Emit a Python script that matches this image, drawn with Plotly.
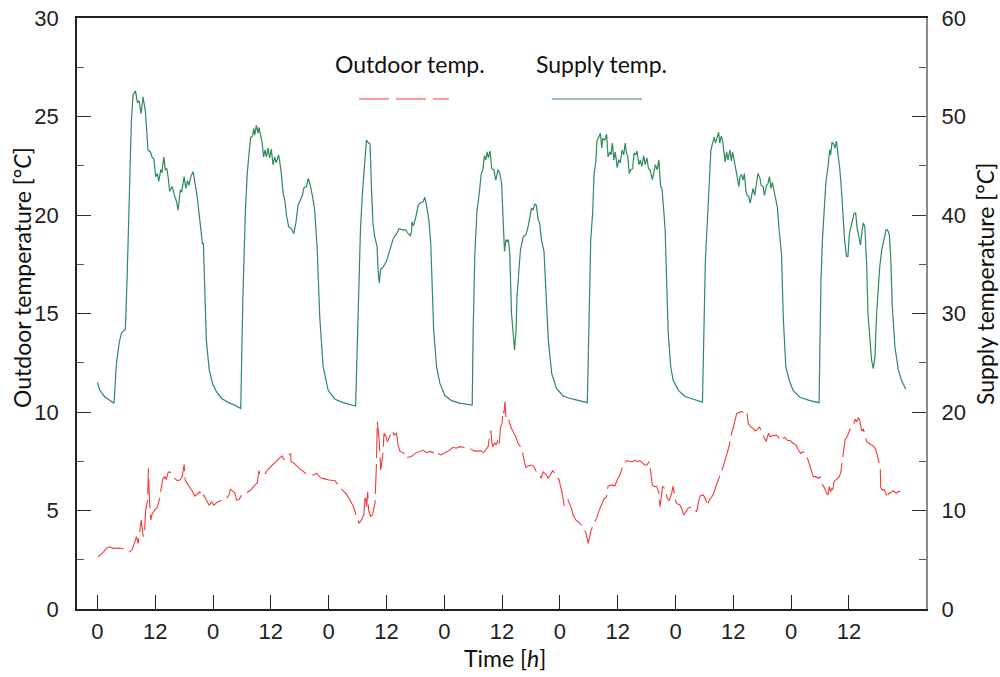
import plotly.graph_objects as go

# ---------------- data ----------------
supply_h = [0, 0.5, 1.5, 2.55, 3.45, 3.94, 4.5, 4.98, 5.5, 5.8, 6.15, 6.57, 7.05, 7.4, 7.9, 8.3, 8.65, 9.06, 9.47, 9.96,
            10.5, 11.0, 11.4, 11.7, 12.1, 12.45, 12.73, 13.15, 13.4, 13.77, 14.1, 14.4, 14.67, 15.0, 15.5, 16.05, 16.4, 16.75,
            17.2, 17.5, 18.0, 18.35, 18.7, 19.0, 19.4, 19.86, 20.2, 20.7, 21.25, 21.8, 22.0, 22.3, 22.6, 23.2, 23.9, 24.7,
            25.75, 27.1, 28.5, 29.75, 30.2, 30.7, 31.1, 31.6, 31.85, 32.2, 32.45, 32.65, 33.0, 33.35, 33.55, 33.9, 34.2,
            34.5, 34.8, 35.1, 35.4, 35.75, 36.1, 36.45, 36.8, 37.1, 37.6, 37.85, 38.2, 38.55, 38.9, 39.24, 39.7, 40.3,
            40.76, 41.2, 41.65, 42.1, 42.55, 42.9, 43.4, 43.75, 44.1, 44.65, 45.1, 45.6, 46.16, 46.85, 47.9, 49.3, 51.0,
            53.6, 54.1, 54.6, 55.0, 55.36, 55.85, 56.2, 56.6, 56.9, 57.2, 57.56, 58.05, 58.26, 58.5, 58.8, 59.3, 60.0,
            60.7, 61.4, 62.1, 62.6, 63.3, 64.0, 64.5, 64.96, 65.2, 65.3, 65.6, 66.1, 66.6, 67.1, 67.6, 67.96, 68.3, 68.8,
            69.2, 69.5, 69.8, 70.4, 71.1, 72.1, 73.5, 75.2, 77.8, 78.0, 78.35, 78.8, 79.2, 79.65, 80.0, 80.35, 80.6, 80.9,
            81.15, 81.5, 81.85, 82.3, 82.7, 83.15, 83.5, 83.9, 84.2, 84.5, 84.8, 85.05, 85.3, 85.6, 85.96, 86.2, 86.6,
            86.9, 87.1, 87.55, 87.8, 88.4, 88.95, 89.4, 89.75, 90.1, 90.4, 90.8, 91.1, 91.5, 91.8, 92.2, 92.7, 93.1, 93.6,
            94.3, 95.3, 96.7, 98.75, 101.7, 102.0, 102.4, 102.8, 103.1, 103.45, 103.7, 104.1, 104.4, 104.7, 104.9, 105.3,
            105.7, 106.0, 106.4, 106.6, 106.9, 107.2, 107.5, 107.9, 108.2, 108.55, 108.9, 109.25, 109.55, 109.8, 110.1,
            110.4, 110.7, 111.1, 111.4, 111.75, 112.0, 112.4, 112.7, 113.0, 113.4, 113.7, 114.05, 114.4, 114.7, 115.2,
            115.5, 115.8, 116.2, 116.55, 116.9, 117.2, 117.6, 117.85, 118.15, 118.5, 119.0, 119.5, 120.6, 121.9, 123.7,
            125.6, 125.9, 126.2, 126.7, 127.0, 127.35, 127.7, 128.05, 128.3, 128.6, 128.95, 129.2, 129.5, 129.8, 130.05,
            130.3, 130.6, 130.9, 131.3, 131.6, 131.85, 132.3, 132.55, 132.8, 133.15, 133.4, 133.7, 134.0, 134.3, 134.6,
            134.85, 135.2, 135.5, 135.8, 136.1, 136.45, 136.8, 137.1, 137.5, 137.8, 138.2, 138.45, 138.9, 139.2, 139.5,
            139.8, 140.1, 140.5, 140.8, 141.15, 141.5, 142.0, 142.4, 142.9, 143.6, 144.4, 145.8, 147.9, 149.8, 150.0,
            150.2, 150.5, 150.9, 151.2, 151.7, 152.0, 152.2, 152.5, 152.85, 153.1, 153.4, 153.7, 154.1, 154.4, 154.8,
            155.1, 155.5, 155.8, 156.1, 156.4, 156.8, 157.1, 157.4, 157.7, 158.1, 158.4, 158.75, 159.0, 159.3, 159.7,
            159.95, 160.4, 160.7, 161.05, 161.4, 161.75, 162.1, 162.4, 162.8, 163.3, 163.7, 164.0, 164.4, 164.7, 165.0,
            165.55, 166.25, 166.9, 167.8]
supply_temp = [23.0, 22.2, 21.55, 21.15, 20.88, 24.9, 27.0, 28.0, 28.3, 28.4, 33.4, 41.9, 49.6, 52.2, 52.6, 51.4, 51.6,
               50.3, 52.0, 50.5, 46.6, 46.4, 45.8, 45.7, 43.9, 44.2, 43.4, 44.6, 44.3, 45.9, 44.6, 44.7, 43.9, 42.4, 42.9,
               41.9, 41.4, 40.5, 42.5, 42.4, 43.9, 42.7, 43.5, 43.0, 43.9, 44.4, 43.5, 41.9, 39.5, 37.1, 37.1, 32.05, 27.3,
               24.3, 22.9, 22.06, 21.4, 20.98, 20.7, 20.35, 31.7, 40.2, 44.2, 46.9, 47.9, 48.0, 48.8, 48.1, 49.1, 48.3,
               48.9, 48.0, 47.3, 45.9, 46.6, 45.9, 46.8, 45.8, 46.7, 45.1, 45.9, 45.3, 46.1, 45.4, 44.1, 42.2, 41.5, 40.0,
               38.8, 38.6, 38.1, 39.2, 41.0, 41.5, 42.0, 42.8, 42.9, 43.7, 43.2, 41.9, 40.5, 36.8, 29.6, 24.6, 22.2, 21.3,
               20.95, 20.6, 30.0, 38.5, 42.2, 44.9, 47.6, 47.35, 47.2, 42.5, 39.2, 37.8, 36.8, 34.4, 33.1, 34.5, 34.7,
               35.3, 36.4, 37.6, 38.1, 38.6, 38.5, 38.5, 38.1, 37.9, 38.3, 39.3, 38.9, 39.8, 41.0, 41.25, 41.35, 41.8,
               41.0, 39.5, 37.1, 33.4, 28.3, 24.6, 22.9, 21.7, 21.15, 20.9, 20.7, 28.3, 36.1, 40.5, 41.9, 44.1, 44.6,
               46.0, 45.6, 46.4, 45.8, 46.5, 44.7, 44.6, 43.55, 44.6, 44.3, 43.2, 39.5, 36.3, 37.5, 37.3, 37.5, 36.1,
               30.0, 28.5, 26.3, 28.3, 31.7, 34.75, 36.4, 37.8, 38.0, 38.8, 40.0, 40.7, 40.5, 41.1, 41.0, 39.5, 39.2,
               37.4, 36.3, 31.7, 27.3, 23.9, 22.4, 21.6, 21.3, 20.95, 30.0, 37.5, 40.2, 44.2, 45.4, 47.6, 47.9, 48.3,
               46.8, 47.8, 47.6, 48.2, 45.9, 46.4, 46.1, 47.3, 45.6, 46.4, 44.8, 45.6, 45.3, 46.6, 46.1, 47.3, 46.4, 45.9,
               44.2, 44.6, 44.7, 46.3, 46.1, 46.5, 45.1, 45.6, 44.9, 46.0, 45.1, 45.8, 44.7, 44.6, 43.6, 44.5, 45.1, 44.6,
               45.6, 42.9, 42.7, 40.2, 38.5, 33.4, 28.0, 24.6, 23.25, 22.2, 21.6, 21.3, 21.0, 28.3, 35.4, 40.2, 43.55,
               46.6, 47.3, 47.9, 47.3, 47.8, 48.4, 47.3, 48.0, 47.5, 46.6, 45.4, 46.4, 45.6, 46.6, 45.5, 46.4, 45.3, 44.9,
               43.9, 42.9, 43.9, 44.1, 43.55, 44.2, 42.5, 42.0, 41.9, 41.2, 42.2, 42.7, 42.0, 43.55, 44.2, 43.8, 43.0,
               42.9, 42.0, 43.0, 43.2, 43.9, 42.7, 43.3, 42.3, 41.35, 40.8, 38.5, 36.1, 29.3, 24.6, 23.25, 22.2, 21.5,
               21.15, 20.95, 26.6, 33.4, 37.5, 40.8, 43.2, 45.1, 46.6, 46.1, 47.4, 47.2, 46.8, 47.5, 46.4, 44.7, 42.9,
               39.8, 37.5, 35.8, 35.8, 38.1, 38.8, 39.7, 40.2, 40.2, 38.7, 37.7, 36.95, 38.5, 39.2, 38.8, 34.75, 30.0,
               27.0, 25.3, 24.4, 25.6, 30.0, 32.4, 34.75, 36.4, 37.8, 38.5, 38.5, 38.0, 35.4, 30.7, 26.6, 24.3, 23.25,
               22.3]

outdoor_h = [0.13, 1.0, 1.87, 2.5, 3.2, 3.9, 4.6, 6.0, 6.7, 7.26, 7.75, 8.1, 8.45, 8.8, 9.1, 9.5, 9.8, 10.0, 10.4, 10.6,
             10.8, 11.1, 11.4, 11.9, 12.4, 12.8, 13.3, 13.6, 14.0, 14.3, 14.67, 15.0, 15.6, 16.05, 16.6, 17.1, 17.6, 18.0,
             18.2, 18.6, 19.2, 19.65, 20.2, 20.7, 21.25, 21.66, 22.1, 22.6, 23.2, 23.7, 24.2, 24.7, 25.4, 26.1, 26.8,
             27.3, 27.6, 28.5, 28.9, 29.4, 29.9, 30.6, 31.3, 31.8, 32.7, 33.2, 33.5, 33.8, 34.4, 34.9, 35.4, 36.1, 36.7,
             37.2, 37.85, 38.3, 38.7, 39.2, 40.1, 40.2, 40.8, 41.4, 41.9, 43.2, 44.1, 44.8, 45.5, 46.2, 46.7, 47.4, 48.1,
             49.3, 49.8, 50.3, 51.0, 51.7, 52.4, 53.1, 53.6, 54.0, 54.3, 54.8, 55.3, 55.6, 55.9, 56.1, 56.3, 56.7, 57.1,
             57.6, 57.9, 58.1, 58.5, 58.8, 59.2, 59.5, 59.9, 60.2, 60.7, 61.2, 61.6, 62.1, 62.4, 62.8, 63.5, 64.0, 64.5,
             65.2, 66.0, 66.9, 67.6, 68.3, 69.0, 69.7, 70.4, 70.9, 71.4, 72.2, 73.0, 73.8, 74.5, 75.2, 75.9, 76.6, 77.3,
             78.1, 78.8, 79.5, 80.1, 80.6, 81.1, 81.5, 81.7, 81.9, 82.1, 82.5, 82.8, 83.2, 83.4, 83.7, 84.0, 84.2, 84.4,
             84.6, 84.8, 85.1, 85.5, 85.8, 86.3, 86.85, 87.3, 87.8, 88.2, 88.5, 88.9, 89.4, 90.1, 90.6, 91.1, 91.7, 92.1,
             92.5, 92.9, 93.2, 93.6, 94.05, 94.5, 94.95, 95.3, 95.8, 96.2, 96.55, 96.9, 97.2, 97.7, 98.4, 98.75, 99.3,
             99.8, 100.3, 100.8, 101.4, 101.9, 102.1, 102.4, 102.9, 103.6, 104.2, 104.65, 105.1, 105.7, 106.0, 106.7,
             107.4, 107.9, 108.45, 109.0, 109.5, 109.85, 110.5, 111.1, 111.6, 112.1, 112.6, 113.2, 113.6, 114.1, 114.5,
             114.8, 115.2, 115.7, 116.05, 116.5, 116.8, 117.3, 117.8, 118.3, 118.7, 119.2, 119.5, 119.9, 120.2, 120.9,
             121.4, 121.7, 122.1, 122.6, 122.98, 123.7, 124.0, 124.4, 124.7, 125.1, 125.8, 126.3, 126.7, 127.0, 127.5,
             128.0, 128.3, 128.9, 129.4, 129.9, 130.4, 130.8, 131.2, 131.4, 131.8, 132.3, 132.7, 133.2, 133.7, 134.1,
             134.4, 134.8, 135.1, 135.6, 136.1, 136.5, 137.0, 137.4, 137.9, 138.4, 138.8, 139.3, 139.6, 140.3, 140.9,
             141.3, 141.8, 142.3, 142.7, 143.3, 143.8, 144.3, 145.0, 145.5, 146.0, 146.5, 147.0, 147.4, 147.7, 148.3,
             148.6, 149.2, 149.6, 150.0, 150.3, 150.7, 151.0, 151.4, 151.7, 151.9, 152.2, 152.5, 152.6, 152.9, 153.5,
             154.0, 154.3, 154.6, 154.8, 155.2, 155.7, 156.2, 156.8, 157.3, 157.6, 158.0, 158.3, 158.6, 159.0, 159.3,
             159.7, 160.2, 160.7, 161.2, 161.6, 161.9, 162.2, 162.5, 162.6, 162.9, 163.3, 163.7, 163.97, 164.2, 164.7,
             165.2, 165.8, 166.2, 166.7]
outdoor_temp = [2.65, 2.82, 3.08, 3.16, 3.08, 3.08, 3.1, 3.0, 2.9, 3.03, 3.42, 3.67, 3.33, 4.0, 4.52, 3.67, 4.0, 5.0,
                5.5, 7.14, 5.5, 4.52, 4.85, 5.02, 5.15, 5.49, 6.21, 6.63, 6.72, 6.58, 6.92, 6.97, 6.8, 6.63, 6.51, 6.55,
                6.72, 7.34, 6.55, 6.41, 6.21, 6.0, 5.73, 5.83, 5.95, 5.66, 5.78, 5.53, 5.27, 5.44, 5.27, 5.39, 5.48,
                5.56, 5.61, 5.78, 6.07, 5.9, 5.53, 5.56, 5.78, 5.83, 5.95, 6.04, 6.29, 6.41, 7.02, 6.8, 6.8, 6.89, 7.09,
                7.26, 7.4, 7.53, 7.65, 7.77, 7.6, 7.65, 7.9, 7.48, 7.4, 7.26, 7.14, 6.89, 6.84, 6.8, 6.89, 6.68, 6.63,
                6.58, 6.55, 6.51, 6.38, 6.21, 6.0, 5.83, 5.53, 5.23, 4.85, 4.52, 4.35, 4.52, 4.77, 5.79, 5.2, 5.95, 5.0,
                4.7, 4.77, 5.36, 7.22, 9.51, 8.58, 7.06, 7.73, 8.92, 8.76, 8.5, 8.83, 9.05, 8.83, 8.92, 8.33, 8.0, 7.94,
                7.65, 7.7, 7.74, 7.9, 8.0, 8.07, 7.94, 8.0, 7.94, 8.04, 7.87, 7.82, 7.95, 8.04, 8.21, 8.16, 8.24, 8.21,
                8.16, 8.16, 8.04, 8.0, 8.04, 7.94, 8.07, 8.24, 8.92, 9.05, 8.41, 8.24, 8.44, 8.33, 8.66, 8.38, 9.25,
                9.42, 10.07, 9.93, 10.52, 9.76, 9.85, 9.42, 9.25, 9.0, 8.75, 8.41, 8.24, 8.0, 7.6, 7.19, 7.26, 7.31,
                7.23, 6.97, 6.89, 6.63, 6.97, 6.89, 6.8, 6.63, 6.8, 7.02, 6.89, 6.72, 6.58, 6.21, 5.79, 5.23, 5.45, 5.53,
                5.11, 4.77, 4.52, 4.43, 4.31, 4.09, 3.87, 3.33, 3.59, 3.93, 4.26, 4.6, 5.03, 5.36, 5.57, 5.7, 6.24, 6.3,
                6.24, 6.55, 6.8, 7.19, 7.4, 7.53, 7.5, 7.48, 7.56, 7.48, 7.53, 7.4, 7.31, 7.31, 7.48, 7.06, 6.29, 6.21,
                6.24, 5.96, 5.19, 6.21, 6.12, 5.62, 5.5, 5.87, 6.24, 5.62, 5.36, 5.28, 5.03, 4.77, 4.94, 5.11, 5.16,
                5.16, 5.03, 4.94, 5.36, 5.74, 5.79, 5.53, 5.23, 5.53, 5.67, 5.91, 6.17, 6.55, 6.89, 7.23, 7.65, 8.0,
                8.33, 8.67, 9.0, 9.51, 9.93, 9.98, 10.02, 9.98, 10.02, 10.05, 9.42, 9.25, 9.17, 9.05, 9.1, 9.25, 9.0,
                8.75, 8.5, 8.92, 8.75, 8.8, 8.83, 8.75, 8.55, 8.67, 8.71, 8.55, 8.55, 8.44, 8.33, 8.07, 7.9, 7.99, 7.9,
                7.65, 7.4, 6.97, 6.72, 6.72, 6.63, 6.72, 6.38, 6.24, 6.12, 5.87, 5.79, 6.21, 5.96, 6.17, 5.96, 6.46,
                6.58, 6.72, 6.92, 7.4, 7.9, 8.58, 8.78, 9.12, 9.25, 9.63, 9.51, 9.72, 9.51, 9.08, 9.12, 8.78, 8.5, 8.41,
                8.33, 8.24, 8.07, 7.82, 7.56, 7.19, 6.17, 6.04, 6.07, 5.87, 5.62, 5.87, 5.91, 6.0, 5.87, 5.96, 5.96]

x_tickvals = [0, 12, 24, 36, 48, 60, 72, 84, 96, 108, 120, 132, 144, 156]
x_ticktext = ["0", "12", "0", "12", "0", "12", "0", "12", "0", "12", "0", "12", "0", "12"]
left_ticks = [0, 5, 10, 15, 20, 25, 30]
right_ticks = [0, 10, 20, 30, 40, 50, 60]
series_names = ["Outdoor temp.", "Supply temp."]

RED = "#f23a3a"
GREEN = "#2e8b57"
TXT = "#222222"

# plot area in pixels
L, R, T, B = 77, 926, 18, 609
W, H = 1000, 677


def px(x):
    return (x - L) / (R - L)


def py(y):
    return (B - y) / (B - T)


fig = go.Figure()
fig.add_trace(go.Scatter(x=outdoor_h, y=outdoor_temp, mode="lines", name=series_names[0],
                         line=dict(color=RED, width=1.1, dash="30px,6px"), yaxis="y"))
fig.add_trace(go.Scatter(x=supply_h, y=supply_temp, mode="lines", name=series_names[1],
                         line=dict(color=GREEN, width=1.2), yaxis="y2"))

tickfont = dict(family="Liberation Sans, Arial, sans-serif", size=22, color=TXT)
titlefont = dict(family="Lato, sans-serif", size=23, color="#111111")

fig.update_layout(
    template="none",
    width=W, height=H,
    margin=dict(l=L, r=W - R, t=T, b=H - B, pad=0, autoexpand=False),
    paper_bgcolor="white", plot_bgcolor="white",
    showlegend=False,
    xaxis=dict(range=[-4.24, 172.0], tickvals=x_tickvals, ticktext=x_ticktext, automargin=False,
               ticks="inside", ticklen=14, tickwidth=1.2, tickcolor="#222",
               showline=True, linecolor="#222", linewidth=1.5, mirror=True,
               showgrid=False, zeroline=False, tickfont=tickfont, ticklabelstandoff=2),
    yaxis=dict(range=[0, 30], tickvals=left_ticks, ticks="inside", ticklen=14, tickwidth=1.2, automargin=False,
               tickcolor="#333", showline=True, linecolor="#222", linewidth=1.5,
               showgrid=False, zeroline=False, tickfont=tickfont, ticklabelstandoff=12,
               minor=dict(dtick=2.5, ticks="inside", ticklen=7, tickcolor="#555", tickwidth=1.2)),
    yaxis2=dict(range=[0, 60], tickvals=right_ticks, overlaying="y", side="right", automargin=False,
                ticks="inside", ticklen=14, tickwidth=1.2, tickcolor="#333",
                showline=True, linecolor="#8a8a8a", linewidth=2,
                showgrid=False, zeroline=False, tickfont=tickfont, ticklabelstandoff=9,
                minor=dict(dtick=5, ticks="inside", ticklen=7, tickcolor="#555", tickwidth=1.2)),
)

annotations = [
    dict(text="Outdoor temperature [°<i>C</i>]", x=px(22), y=py(278), textangle=-90),
    dict(text="Supply temperature [°<i>C</i>]", x=px(985), y=py(284), textangle=-90),
    dict(text="Time [<i>h</i>]", x=px(505), y=py(658)),
    dict(text=series_names[0], x=px(410), y=py(64)),
    dict(text=series_names[1], x=px(601), y=py(64)),
]
for a in annotations:
    a.update(xref="paper", yref="paper", showarrow=False, xanchor="center", yanchor="middle",
             font=titlefont)
fig.update_layout(annotations=annotations)

fig.update_layout(shapes=[
    dict(type="line", xref="paper", yref="paper", x0=px(359), x1=px(449), y0=py(99), y1=py(99),
         line=dict(color=RED, width=1.1, dash="30px,7px")),
    dict(type="line", xref="paper", yref="paper", x0=px(552), x1=px(642), y0=py(99), y1=py(99),
         line=dict(color=GREEN, width=1.2)),
])

fig.write_html("out.html")
